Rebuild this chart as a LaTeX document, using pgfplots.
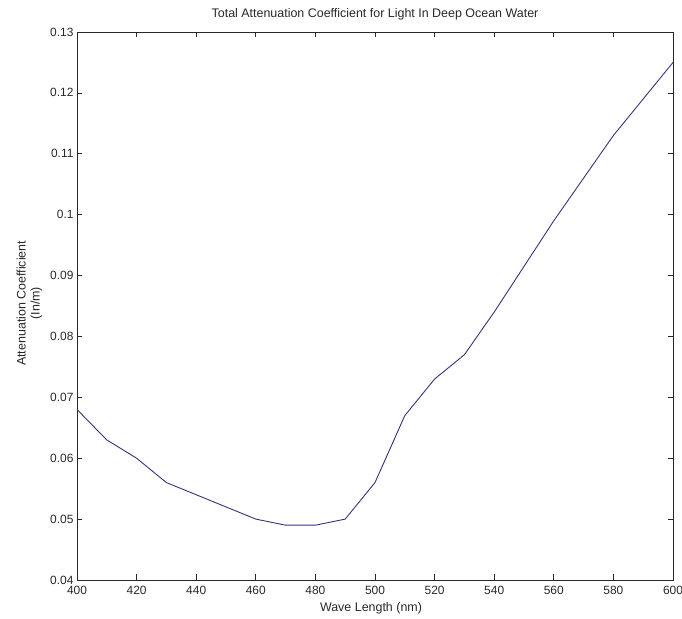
\documentclass[border=0pt]{standalone}
\usepackage{fontspec}
\setmainfont{Liberation Sans}
\usepackage{pgfplots}
\pgfplotsset{compat=1.18}
\definecolor{linecol}{RGB}{52,52,122}
\definecolor{axcol}{RGB}{40,40,40}
\begin{document}
\begin{tikzpicture}
\begin{axis}[
  scale only axis,
  width=596bp, height=548bp,
  xmin=400, xmax=600, ymin=0.04, ymax=0.13,
  xtick={400,420,...,600},
  ytick={0.04,0.05,...,0.131},
  tick align=inside,
  major tick length=5.5bp,
  tick style={axcol, line width=0.7pt},
  axis line style={axcol, line width=0.9pt},
  /pgf/number format/assume math mode=true,
  yticklabel style={/pgf/number format/fixed, /pgf/number format/precision=2},
  xticklabel style={/pgf/number format/fixed, yshift=-2.5bp},
  ticklabel style={font=\fontsize{12}{14}\selectfont, text=axcol},
  scaled y ticks=false,
  title={Total Attenuation Coefficient for Light In Deep Ocean Water},
  title style={font=\fontsize{12.5}{14}\selectfont, text=axcol, at={(axis description cs:0.5,1)}, anchor=base, yshift=9bp},
  xlabel={Wave Length (nm)},
  xlabel style={font=\fontsize{12.5}{14}\selectfont, text=axcol, at={(axis description cs:0.5,0)}, anchor=base, yshift=-32bp, xshift=-4bp},
  ylabel={Attenuation Coefficient\\(In/m)},
  ylabel style={font=\fontsize{12.5}{14}\selectfont, text=axcol, align=center, at={(axis description cs:-0.058,0.505)}, anchor=south, inner sep=0pt},
]
\addplot[linecol, line width=0.9pt] coordinates {
(400,0.068) (410,0.063) (420,0.060) (430,0.056) (440,0.054) (450,0.052)
(460,0.050) (470,0.049) (480,0.049) (490,0.050) (500,0.056) (510,0.067)
(520,0.073) (530,0.077) (540,0.084) (550,0.0915) (560,0.099) (570,0.106)
(580,0.113) (590,0.119) (600,0.125)
};
\coordinate (BL) at (rel axis cs:0,0);
\coordinate (TR) at (rel axis cs:1,1);
\end{axis}
\pgfresetboundingbox
\path[use as bounding box] ([shift={(-77bp,-39bp)}]BL) rectangle ([shift={(9bp,32bp)}]TR);
\end{tikzpicture}
\end{document}
